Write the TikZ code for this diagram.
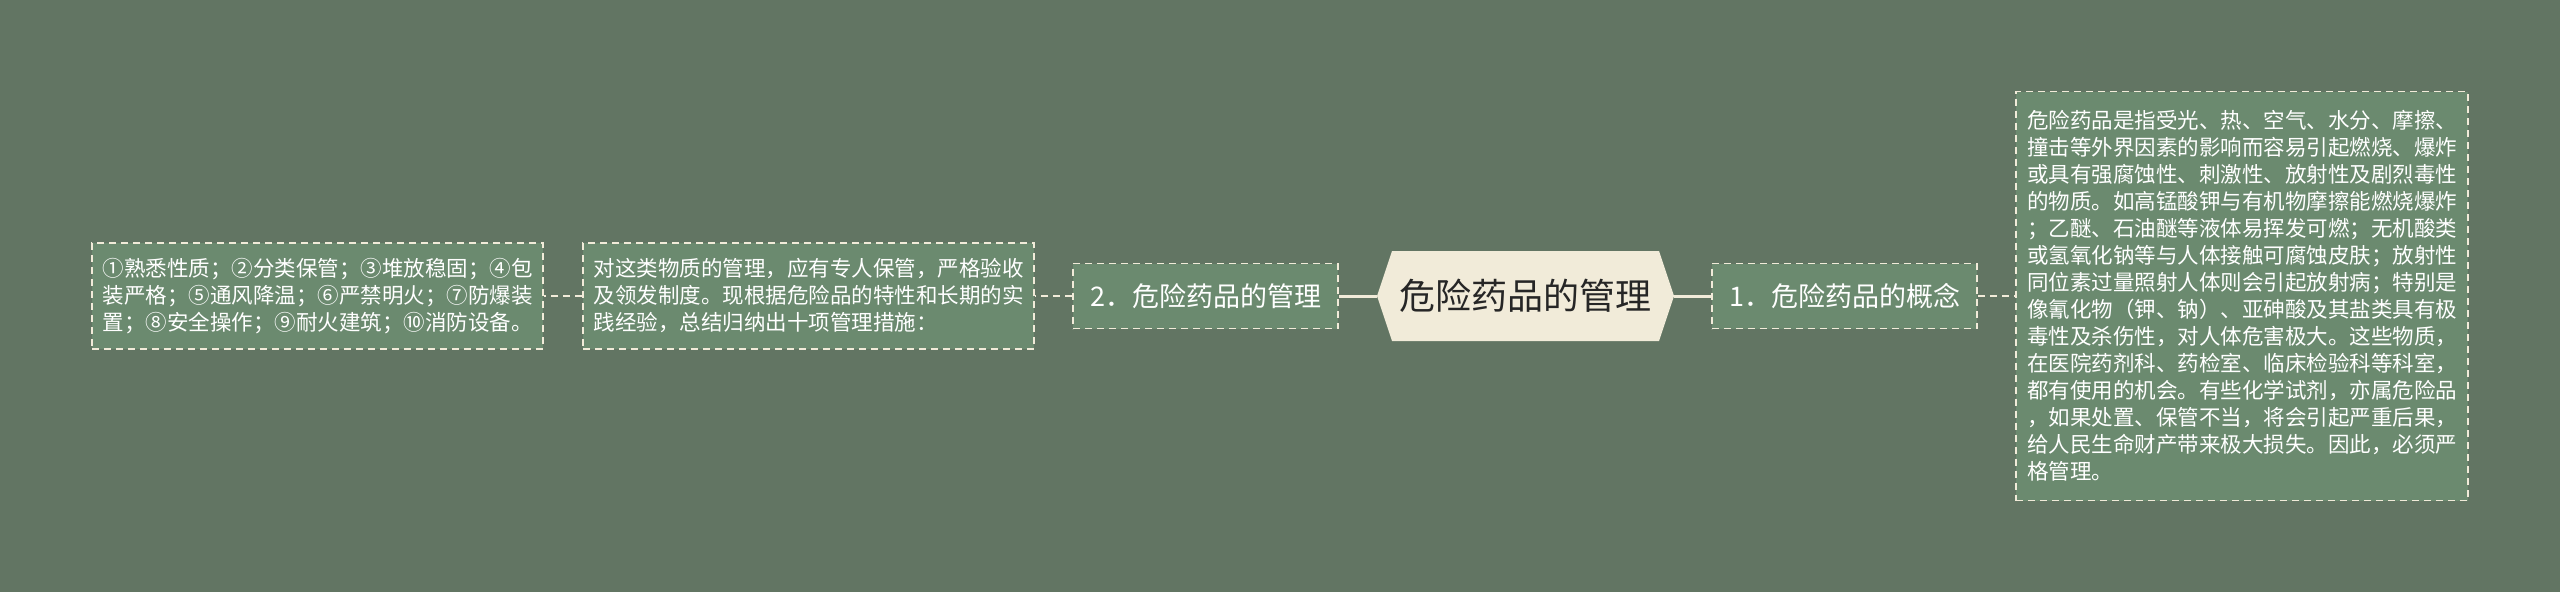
\documentclass[tikz,border=0pt]{standalone}
\usepackage{fontspec}
\usepackage{tikz}
\usetikzlibrary{positioning}
\newfontfamily\cjk{Noto Sans CJK SC}
\definecolor{bggreen}{HTML}{627563}
\definecolor{boxgreen}{HTML}{6B8A6F}
\definecolor{cream}{HTML}{F1EBD9}
\tikzset{leaf/.style={draw=cream,fill=boxgreen,line width=1.6pt,dash pattern=on 7pt off 5pt,text=white,inner sep=0pt,align=left,font=\cjk\fontsize{21.5}{27}\selectfont}}

\begin{document}
\begin{tikzpicture}[x=1pt,y=-1pt,
    topic/.style={leaf,align=center,font=\cjk\fontsize{27}{32}\selectfont,minimum width=265pt,minimum height=65pt},
    link/.style={cream,line width=1.6pt,dash pattern=on 7pt off 5pt},
    trunk/.style={cream,line width=3pt}]
                \fill[bggreen] (0,0) rectangle (2560,592);
                \useasboundingbox (0,0) rectangle (2560,592);
                % central hexagon
                \coordinate (hub) at (1525.5,296);
                \fill[cream] (hub) ++(-148.5,0) -- ++(15,-45) -- ++(267,0) -- ++(15,45)
                    -- ++(-15,45) -- ++(-267,0) -- cycle;
                \node [font=\cjk\fontsize{36}{40}\selectfont,text={black!85},minimum width=297pt,minimum height=90pt] (root) at (hub) {危险药品的管理};
                % left branch
                \node [topic] (mgmt) at (1205.5,296) {2．危险药品的管理};
                \node [leaf,minimum width=451pt,minimum height=106pt] (mgmtnote) at (808.5,296)
                    {对这类物质的管理，应有专人保管，严格验收\\及领发制度。现根据危险品的特性和长期的实\\践经验，总结归纳出十项管理措施：};
                \node [leaf,minimum width=451pt,minimum height=106pt] (measures) at (317.5,296)
                    {①熟悉性质；②分类保管；③堆放稳固；④包\\装严格；⑤通风降温；⑥严禁明火；⑦防爆装\\置；⑧安全操作；⑨耐火建筑；⑩消防设备。};
                % right branch
                \node [topic] (concept) at (1844.5,296) {1．危险药品的概念};
                \node [leaf,minimum width=452pt,minimum height=409pt] (conceptnote) at (2242,296)
                    {危险药品是指受光、热、空气、水分、摩擦、\\撞击等外界因素的影响而容易引起燃烧、爆炸\\或具有强腐蚀性、刺激性、放射性及剧烈毒性\\的物质。如高锰酸钾与有机物摩擦能燃烧爆炸\\；乙醚、石油醚等液体易挥发可燃；无机酸类\\或氢氧化钠等与人体接触可腐蚀皮肤；放射性\\同位素过量照射人体则会引起放射病；特别是\\像氰化物（钾、钠）、亚砷酸及其盐类具有极\\毒性及杀伤性，对人体危害极大。这些物质，\\在医院药剂科、药检室、临床检验科等科室，\\都有使用的机会。有些化学试剂，亦属危险品\\，如果处置、保管不当，将会引起严重后果，\\给人民生命财产带来极大损失。因此，必须严\\格管理。};
                % connectors
                \draw [trunk] (root.west) -- (mgmt.east);
                \draw [trunk] (root.east) -- (concept.west);
                \draw [link] (mgmt.west) -- (mgmtnote.east);
                \draw [link] (mgmtnote.west) -- (measures.east);
                \draw [link] (concept.east) -- (conceptnote.west);
            \end{tikzpicture}
\end{document}
